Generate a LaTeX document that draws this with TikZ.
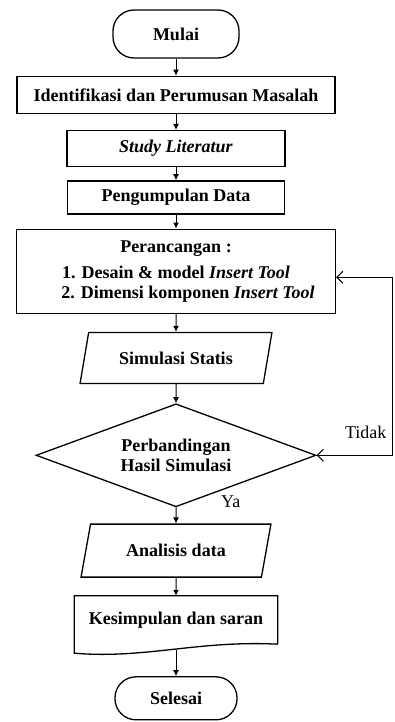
\documentclass[tikz,border=0pt]{standalone}
\usepackage{fontspec}
\setmainfont{Liberation Serif}
\usetikzlibrary{positioning,shapes.geometric,arrows.meta}
\newcommand{\chartfont}{\fontsize{18pt}{20pt}\selectfont}
\tikzset{terminal/.style={rectangle,rounded corners=21pt,draw,line width=1.3pt,font=\chartfont\bfseries},
  process/.style={rectangle,draw,line width=1.3pt,font=\chartfont\bfseries},
  inout/.style={trapezium,trapezium left angle=73,trapezium right angle=107,trapezium stretches=true,draw,line width=1.3pt,font=\chartfont\bfseries},
  decision/.style={diamond,aspect=2.7,inner sep=0pt,draw,line width=1.3pt,align=center,font=\chartfont\bfseries},
  answer/.style={inner sep=0pt,font=\chartfont},
  panah/.style={line width=1pt,-{Latex[length=6pt,width=6pt]}},
  panah balik/.style={line width=1pt,-{Straight Barb[length=6pt,width=12pt]}} }

\begin{document}
\begin{tikzpicture}[x=1pt,y=1pt]
  \useasboundingbox (0,0) rectangle (395,-722);

  \node[terminal,minimum width=126pt,minimum height=48pt] (mulai) at (176,-34) {Mulai};
  \node[process,minimum width=318pt,minimum height=37pt] (identifikasi) [below=17pt of mulai] {Identifikasi dan Perumusan Masalah};
  \node[process,minimum width=218pt,minimum height=36pt] (studi) [below=16pt of identifikasi] {\textit{Study Literatur}};
  \node[process,minimum width=217pt,minimum height=33pt] (data) [below=13pt of studi] {Pengumpulan Data};
  \node[process,minimum width=319pt,minimum height=84pt,align=center] (rancang) [below=14pt of data]
    {Perancangan :\\[6pt]1. Desain \& model \textit{Insert Tool}\\\hspace*{24pt}2. Dimensi komponen \textit{Insert Tool}};
  \node[inout,minimum width=192pt,minimum height=51pt] (simulasi) [below=18pt of rancang] {Simulasi Statis};
  \node[decision,minimum width=280pt,minimum height=103pt] (banding) [below=19pt of simulasi] {Perbandingan\\Hasil Simulasi};
  \node[inout,minimum width=190pt,minimum height=53pt] (analisis) [below=16pt of banding] {Analisis data};
  \node[rectangle,minimum width=203pt,minimum height=48pt,font=\chartfont\bfseries] (simpulan) [below=18pt of analisis] {Kesimpulan dan saran};
  \node[terminal,minimum width=122pt,minimum height=43pt] (selesai) [below=32pt of simpulan] {Selesai};

  % bentuk dokumen
  \draw[line width=1.3pt] (simpulan.south east) -- (simpulan.north east) -- (simpulan.north west)
    -- ([yshift=-9pt]simpulan.south west) .. controls ([xshift=70pt,yshift=-15pt]simpulan.south west) and ([xshift=-80pt,yshift=4pt]simpulan.south east) .. (simpulan.south east);
  \coordinate (simpulan bawah) at ([yshift=-6pt]simpulan.south);

  \coordinate (balik bawah) at ([xshift=76pt]banding.east);
  \coordinate (balik atas) at ([xshift=58pt,yshift=-6pt]rancang.east);

  \draw[panah] (mulai) -- (identifikasi);
  \draw[panah] (identifikasi) -- (studi);
  \draw[panah] (studi) -- (data);
  \draw[panah] (data) -- (rancang);
  \draw[panah] (rancang) -- (simulasi);
  \draw[panah] (simulasi) -- (banding);
  \draw[panah] (banding) -- (analisis);
  \draw[panah] (analisis) -- (simpulan);
  \draw[panah] (simpulan bawah) -- (selesai);

  \draw[panah balik] (balik bawah) -- (banding.east);
  \draw[panah balik] (balik bawah) -- (balik bawah |- balik atas) -- (balik atas -| rancang.east);

  \node[answer] (tidak) [above left=16pt and 6pt of balik bawah] {Tidak};
  \node[answer] (ya) [above right=0pt and 45pt of banding.south] {Ya};
\end{tikzpicture}
\end{document}
